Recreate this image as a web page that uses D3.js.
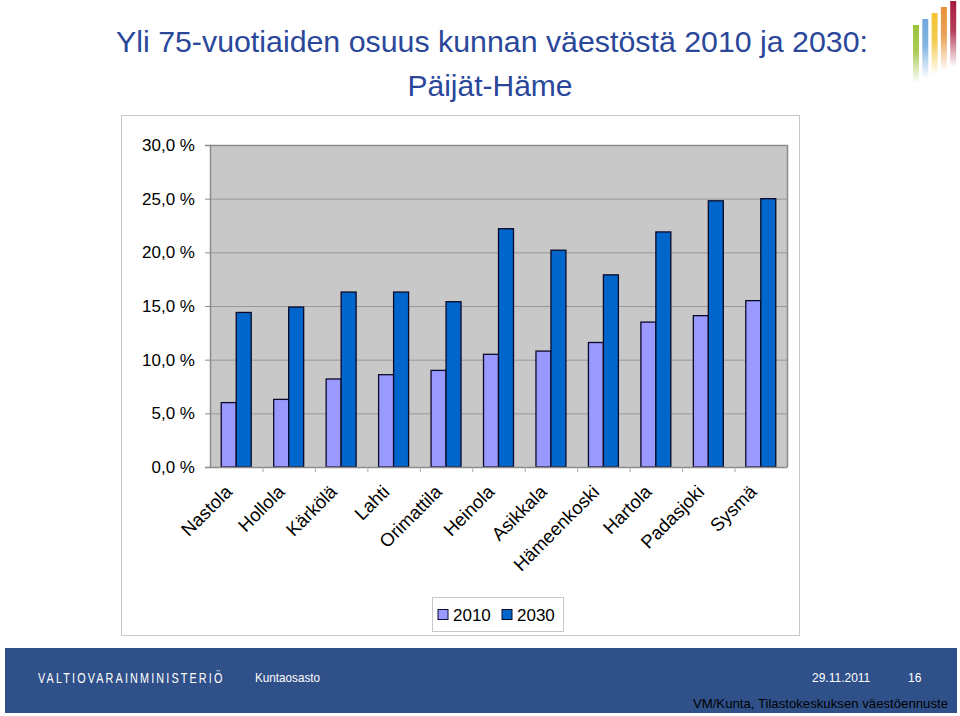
<!DOCTYPE html>
<html>
<head>
<meta charset="utf-8">
<script src="https://cdn.jsdelivr.net/npm/d3@7"></script>
<style>
  body { margin: 0; background: #fff; }
  svg { display: block; font-family: "Liberation Sans", Arial, sans-serif; }
</style>
</head>
<body>
<svg id="chart" width="960" height="716"></svg>
<script>
const municipalities = ['Nastola', 'Hollola', 'Kärkölä', 'Lahti', 'Orimattila', 'Heinola',
  'Asikkala', 'Hämeenkoski', 'Hartola', 'Padasjoki', 'Sysmä'];
const share2010 = [6.0, 6.3, 8.2, 8.6, 9.0, 10.5, 10.8, 11.6, 13.5, 14.1, 15.5];
const share2030 = [14.4, 14.9, 16.3, 16.3, 15.4, 22.2, 20.2, 17.9, 21.9, 24.8, 25.0];
const seriesNames = ['2010', '2030'];
const yTicks = [0, 5, 10, 15, 20, 25, 30];

const svg = d3.select('#chart');

// Plot area
const plot = { left: 210, right: 787, top: 145, bottom: 467 };
const colors = { '2010': '#9999ff', '2030': '#0066cc' };

// logo in the top right corner
const logoColors = ['#9dc33b', '#6fa8dc', '#f1c232', '#e69138', '#a61c3c'];
const defs = svg.append('defs');
logoColors.forEach((c, i) => {
  const gr = defs.append('linearGradient').attr('id', 'lg' + i)
    .attr('x1', 0).attr('y1', 0).attr('x2', 0).attr('y2', 1);
  gr.append('stop').attr('offset', '0%').attr('stop-color', c);
  gr.append('stop').attr('offset', '45%').attr('stop-color', c).attr('stop-opacity', 0.85);
  gr.append('stop').attr('offset', '100%').attr('stop-color', c).attr('stop-opacity', 0);
  svg.append('rect')
    .attr('x', 913 + i * 9.3).attr('y', 25 - i * 6)
    .attr('width', 6).attr('height', 58 + i * 2)
    .attr('fill', `url(#lg${i})`);
});

// title
svg.append('text')
  .attr('x', 492).attr('y', 52)
  .attr('text-anchor', 'middle')
  .attr('font-size', 30)
  .attr('textLength', 752)
  .attr('lengthAdjust', 'spacingAndGlyphs')
  .attr('fill', '#2a479a')
  .text('Yli 75-vuotiaiden osuus kunnan väestöstä 2010 ja 2030:');
svg.append('text')
  .attr('x', 490).attr('y', 96)
  .attr('text-anchor', 'middle')
  .attr('font-size', 30)
  .attr('fill', '#2a479a')
  .text('Päijät-Häme');

// chart frame
svg.append('rect')
  .attr('x', 121.5).attr('y', 115.5)
  .attr('width', 678).attr('height', 520)
  .attr('fill', '#fff').attr('stroke', '#c8c8c8');

const x0 = d3.scaleBand()
  .domain(municipalities)
  .range([plot.left, plot.right]);

const x1 = d3.scaleBand()
  .domain(seriesNames)
  .range([0, x0.bandwidth()])
  .paddingInner(0)
  .paddingOuter(0.75);

const y = d3.scaleLinear()
  .domain([0, 30])
  .range([plot.bottom, plot.top]);

// plot background
svg.append('rect')
  .attr('x', plot.left).attr('y', plot.top)
  .attr('width', plot.right - plot.left).attr('height', plot.bottom - plot.top)
  .attr('fill', '#c8c8c8');

// gridlines
svg.append('g')
  .selectAll('line')
  .data(yTicks.filter(d => d > 0))
  .enter().append('line')
  .attr('x1', plot.left).attr('x2', plot.right)
  .attr('y1', d => y(d) + 0.5).attr('y2', d => y(d) + 0.5)
  .attr('stroke', '#999')
  .attr('stroke-width', 1);

// plot border top/right
svg.append('path')
  .attr('d', `M${plot.left},${plot.top + 0.5}H${plot.right + 0.5}V${plot.bottom}`)
  .attr('fill', 'none')
  .attr('stroke', '#8c8c8c')
  .attr('stroke-width', 1.5);

// bars
const data = municipalities.map((m, i) => ({ name: m, values: [
  { key: '2010', value: share2010[i] },
  { key: '2030', value: share2030[i] }
] }));

const groups = svg.append('g')
  .selectAll('g')
  .data(data)
  .enter().append('g')
  .attr('transform', d => `translate(${x0(d.name)},0)`);

groups.selectAll('rect')
  .data(d => d.values)
  .enter().append('rect')
  .attr('x', d => x1(d.key))
  .attr('y', d => y(d.value))
  .attr('width', x1.bandwidth())
  .attr('height', d => y(0) - y(d.value))
  .attr('fill', d => colors[d.key])
  .attr('stroke', '#0a0a28')
  .attr('stroke-width', 1.3);

// y axis
const yAxis = svg.append('g')
  .attr('transform', `translate(${plot.left},0)`)
  .call(d3.axisLeft(y).tickValues(yTicks).tickSize(5).tickPadding(10)
    .tickFormat(d => d3.format('.1f')(d).replace('.', ',') + ' %'));
yAxis.select('.domain').attr('stroke', '#8c8c8c').attr('stroke-width', 1.5);
yAxis.selectAll('.tick line').attr('stroke', '#8c8c8c');
yAxis.selectAll('.tick text')
  .attr('font-size', 17)
  .attr('font-family', '"Liberation Sans", Arial, sans-serif')
  .attr('fill', '#000');

// x axis
const xAxis = svg.append('g')
  .attr('transform', `translate(0,${plot.bottom})`)
  .call(d3.axisBottom(x0).tickSize(0).tickFormat(''));
xAxis.select('.domain').attr('stroke', '#8c8c8c').attr('stroke-width', 1.5);
xAxis.selectAll('.sep')
  .data(municipalities.slice(1))
  .enter().append('line')
  .attr('x1', d => x0(d) + 0.5).attr('x2', d => x0(d) + 0.5)
  .attr('y1', 0).attr('y2', 5)
  .attr('stroke', '#aaa');

svg.append('g')
  .selectAll('text')
  .data(municipalities)
  .enter().append('text')
  .attr('transform', d => `translate(${x0(d) + x0.bandwidth() / 2 - 3},${plot.bottom + 26}) rotate(-45)`)
  .attr('text-anchor', 'end')
  .attr('font-size', 18.5)
  .attr('fill', '#000')
  .text(d => d);

// legend
const legend = svg.append('g').attr('transform', 'translate(432,597)');
legend.append('rect')
  .attr('x', 0.5).attr('y', 0.5)
  .attr('width', 131).attr('height', 34)
  .attr('fill', '#fff').attr('stroke', '#c8c8c8');
seriesNames.forEach((s, i) => {
  const lx = 6 + i * 64;
  legend.append('rect')
    .attr('x', lx).attr('y', 12.5)
    .attr('width', 10).attr('height', 10)
    .attr('fill', colors[s]).attr('stroke', '#0a0a28');
  legend.append('text')
    .attr('x', lx + 15).attr('y', 24)
    .attr('font-size', 17)
    .text(s);
});

// footer
svg.append('rect')
  .attr('x', 5).attr('y', 648)
  .attr('width', 952).attr('height', 65)
  .attr('fill', '#2f5089');
svg.append('g')
  .attr('transform', 'translate(38,683) scale(0.72,1)')
  .append('text')
  .attr('font-size', 15)
  .attr('letter-spacing', 3)
  .attr('fill', '#fff')
  .text('VALTIOVARAINMINISTERIÖ');
svg.append('g')
  .attr('transform', 'translate(255,682) scale(0.9,1)')
  .append('text')
  .attr('font-size', 13)
  .attr('fill', '#fff')
  .text('Kuntaosasto');
svg.append('text')
  .attr('x', 812).attr('y', 682)
  .attr('font-size', 12)
  .attr('fill', '#fff')
  .text('29.11.2011');
svg.append('text')
  .attr('x', 908).attr('y', 682)
  .attr('font-size', 12)
  .attr('fill', '#fff')
  .text('16');
svg.append('text')
  .attr('x', 948).attr('y', 708)
  .attr('text-anchor', 'end')
  .attr('font-size', 13.2)
  .attr('fill', '#000')
  .text('VM/Kunta, Tilastokeskuksen väestöennuste');
</script>
</body>
</html>
